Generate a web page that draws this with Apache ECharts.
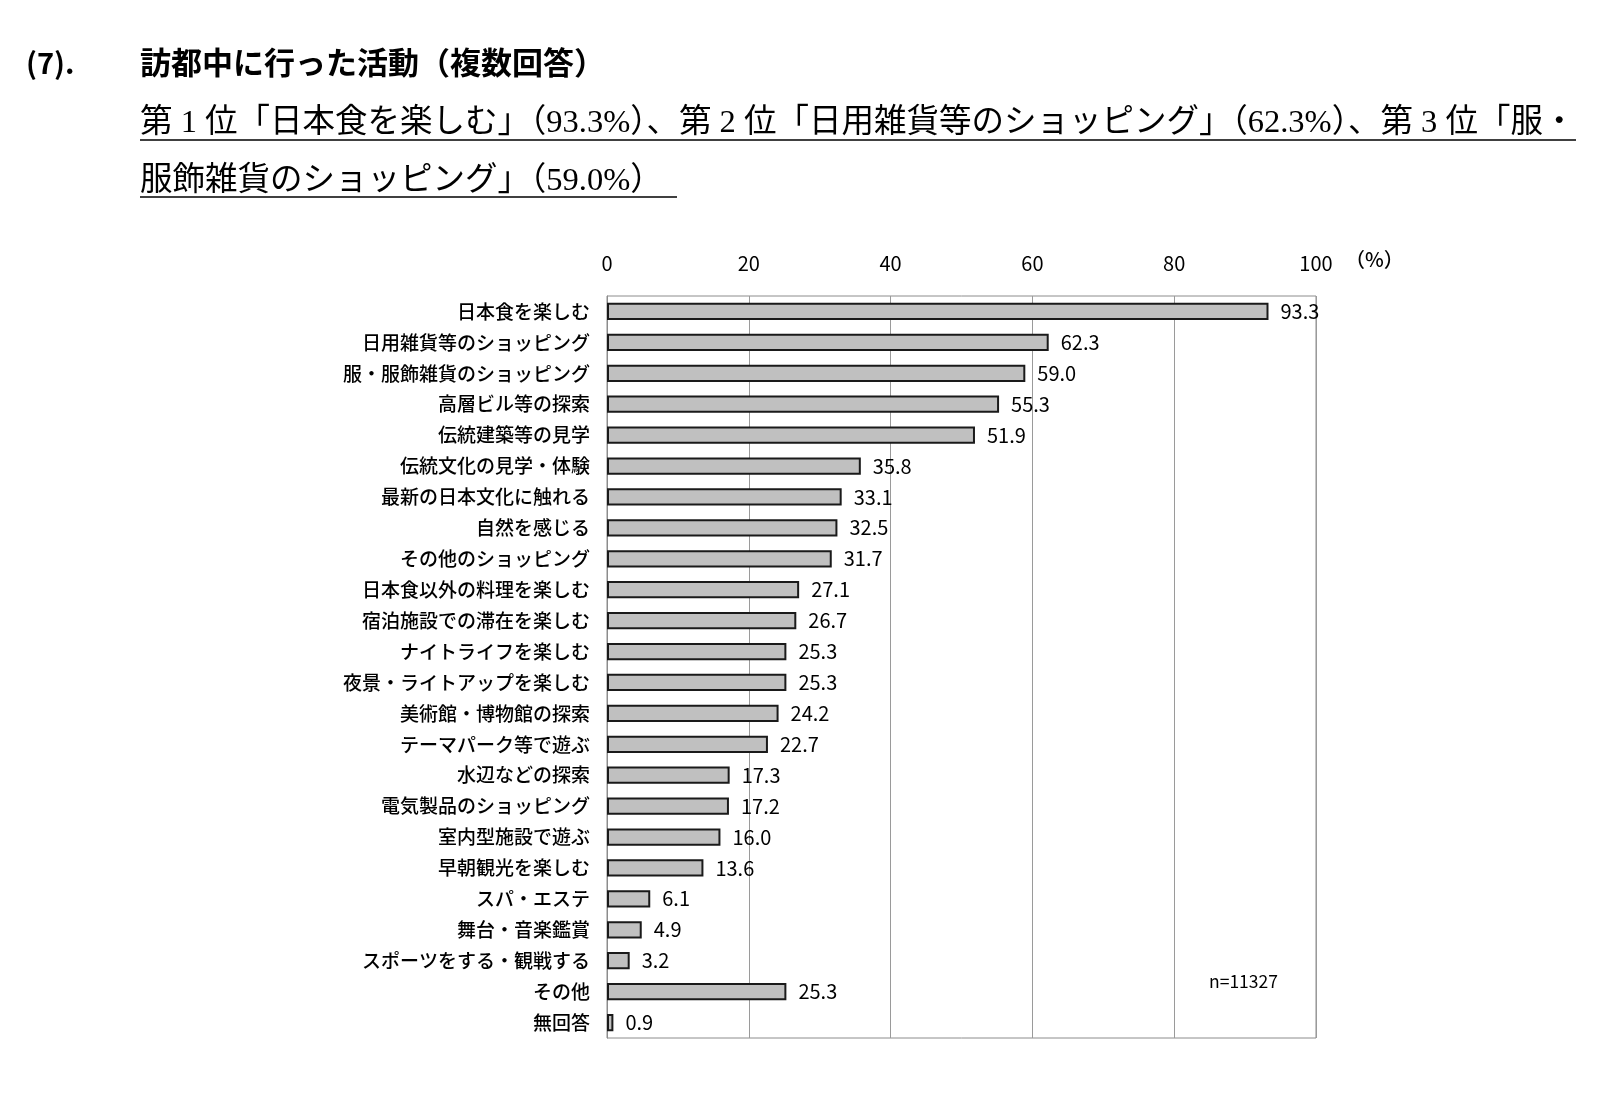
<!DOCTYPE html>
<html>
<head>
<meta charset="utf-8">
<script src="https://cdn.jsdelivr.net/npm/echarts@6/dist/echarts.min.js"></script>
<style>
  html, body { margin: 0; padding: 0; background: #fff; }
  #chart { width: 1600px; height: 1095px; }
</style>
</head>
<body>
<div id="chart"></div>
<script>
  // 訪都中に行った活動（複数回答）
  let categories = [
    '日本食を楽しむ', '日用雑貨等のショッピング', '服・服飾雑貨のショッピング', '高層ビル等の探索',
    '伝統建築等の見学', '伝統文化の見学・体験', '最新の日本文化に触れる', '自然を感じる',
    'その他のショッピング', '日本食以外の料理を楽しむ', '宿泊施設での滞在を楽しむ', 'ナイトライフを楽しむ',
    '夜景・ライトアップを楽しむ', '美術館・博物館の探索', 'テーマパーク等で遊ぶ', '水辺などの探索',
    '電気製品のショッピング', '室内型施設で遊ぶ', '早朝観光を楽しむ', 'スパ・エステ',
    '舞台・音楽鑑賞', 'スポーツをする・観戦する', 'その他', '無回答'
  ];
  let values = [
    93.3, 62.3, 59.0, 55.3,
    51.9, 35.8, 33.1, 32.5,
    31.7, 27.1, 26.7, 25.3,
    25.3, 24.2, 22.7, 17.3,
    17.2, 16.0, 13.6, 6.1,
    4.9, 3.2, 25.3, 0.9
  ];
  let xTicks = [0, 20, 40, 60, 80, 100];

  let headLine = '訪都中に行った活動（複数回答）';
  let subLine1 = '第 1 位「日本食を楽しむ」（93.3%）、第 2 位「日用雑貨等のショッピング」（62.3%）、第 3 位「服・';
  let subLine2 = '服飾雑貨のショッピング」（59.0%）';

  let gothic = '"Noto Sans CJK JP", sans-serif';
  let mincho = '"Liberation Serif", "Noto Sans CJK JP", serif';

  let myChart = echarts.init(document.getElementById('chart'));
  let option = {
    backgroundColor: '#fff',
    animation: false,
    grid: {
      left: 607, top: 296, width: 709, height: 742,
      show: true, borderColor: '#8c8c8c', borderWidth: 1
    },
    xAxis: {
      type: 'value',
      position: 'top',
      min: xTicks[0],
      max: xTicks[xTicks.length - 1],
      interval: 20,
      axisLine: { show: false },
      axisTick: { show: false },
      axisLabel: { color: '#000', fontSize: 20, fontFamily: gothic, margin: 23 },
      splitLine: { show: true, lineStyle: { color: '#9a9a9a', width: 1 } }
    },
    yAxis: {
      type: 'category',
      inverse: true,
      data: categories,
      axisLine: { show: true, lineStyle: { color: '#8c8c8c' } },
      axisTick: { show: false },
      axisLabel: { color: '#000', fontSize: 19, fontFamily: gothic, fontWeight: 500, margin: 17 }
    },
    series: [
      {
        type: 'bar',
        data: values,
        barCategoryGap: '44%',
        itemStyle: { color: '#c0c0c0', borderColor: '#1a1a1a', borderWidth: 2 },
        label: {
          show: true,
          position: 'right',
          distance: 12,
          color: '#000',
          fontSize: 20,
          fontFamily: gothic,
          formatter: function (p) { return p.value.toFixed(1); }
        }
      }
    ],
    graphic: [
      { type: 'text', left: 26, top: 48, style: { text: '(7).', font: 'bold 29px ' + gothic, fill: '#000' } },
      { type: 'text', left: 140, top: 47, style: { text: headLine, font: 'bold 31px ' + gothic, fill: '#000' } },
      { type: 'text', left: 140, top: 107, style: { text: subLine1, font: '32.5px ' + mincho, fill: '#000' } },
      { type: 'line', shape: { x1: 140, y1: 140, x2: 1576, y2: 140 }, style: { stroke: '#000', lineWidth: 1.5 } },
      { type: 'text', left: 140, top: 165, style: { text: subLine2, font: '32.5px ' + mincho, fill: '#000' } },
      { type: 'line', shape: { x1: 140, y1: 197, x2: 677, y2: 197 }, style: { stroke: '#000', lineWidth: 1.5 } },
      { type: 'text', left: 1345, top: 249, style: { text: '（%）', font: '500 20px ' + gothic, fill: '#000' } },
      { type: 'text', left: 1209, top: 973, style: { text: 'n=11327', font: '17.5px ' + gothic, fill: '#000' } }
    ]
  };
  if (option && typeof option === 'object') {
    myChart.setOption(option, true);
  }
</script>
</body>
</html>
